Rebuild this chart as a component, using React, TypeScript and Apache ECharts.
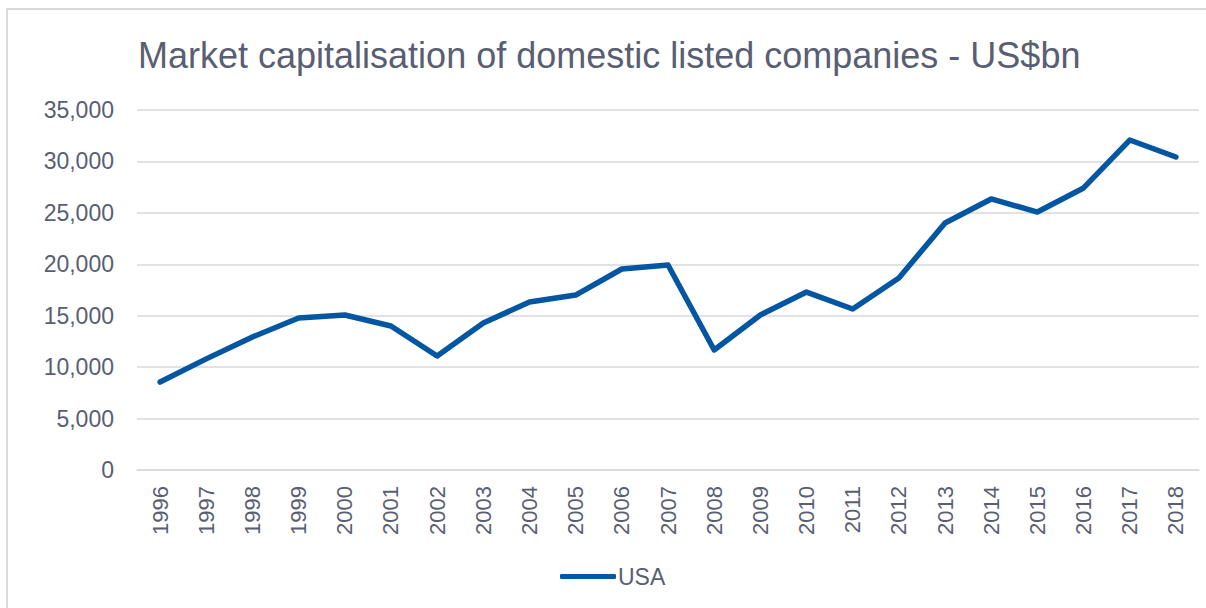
import React, { useEffect, useRef } from "react";
import * as echarts from "echarts";

const years: string[] = [
  "1996", "1997", "1998", "1999", "2000", "2001", "2002", "2003", "2004", "2005", "2006", "2007",
  "2008", "2009", "2010", "2011", "2012", "2013", "2014", "2015", "2016", "2017", "2018",
];
const usaValues: number[] = [
  8550, 10800, 12930, 14780, 15070, 14000, 11080, 14290, 16330, 17010, 19540, 19930,
  11670, 15070, 17300, 15650, 18670, 24010, 26350, 25080, 27420, 32080, 30430,
];
const seriesName = "USA";
const titleText = "Market capitalisation of domestic listed companies - US$bn";

const TEXT = "#595e72";
const GRID = "#d9d9de";
const LINE = "#0356a1";

export default function App() {
  const ref = useRef<HTMLDivElement>(null);
  useEffect(() => {
    document.body.style.margin = "0";
    document.body.style.overflow = "hidden";
    if (!ref.current) return;
    const chart = echarts.init(ref.current, undefined, { renderer: "svg" });
    chart.setOption({
      animation: false,
      backgroundColor: "#ffffff",
      title: {
        text: titleText,
        left: 133,
        top: 32,
        textStyle: {
          fontFamily: "Liberation Sans, Arial, sans-serif",
          fontSize: 36,
          fontWeight: "normal",
          color: TEXT,
        },
      },
      graphic: [
        {
          type: "rect",
          shape: { x: 7, y: 9, width: 1400, height: 800 },
          style: { fill: "none", stroke: GRID, lineWidth: 2 },
          silent: true,
        },
      ],
      grid: { left: 137, right: 7, top: 110, bottom: 138, containLabel: false },
      legend: {
        data: [seriesName],
        left: 555,
        top: 560,
        icon: "roundRect",
        itemWidth: 56,
        itemHeight: 5,
        textStyle: {
          fontFamily: "Liberation Sans, Arial, sans-serif",
          fontSize: 23,
          color: TEXT,
          padding: [0, 0, 0, -3],
        },
      },
      xAxis: {
        type: "category",
        data: years,
        boundaryGap: true,
        axisLine: { show: true, lineStyle: { color: GRID, width: 1.5 } },
        axisTick: { show: false },
        axisLabel: {
          rotate: 90,
          margin: 16,
          fontFamily: "Liberation Sans, Arial, sans-serif",
          fontSize: 22,
          color: TEXT,
          interval: 0,
        },
      },
      yAxis: {
        type: "value",
        min: 0,
        max: 35000,
        interval: 5000,
        axisLine: { show: false },
        axisTick: { show: false },
        splitLine: { lineStyle: { color: GRID, width: 1.5 } },
        axisLabel: {
          margin: 23,
          fontFamily: "Liberation Sans, Arial, sans-serif",
          fontSize: 23,
          color: TEXT,
          formatter: (v: number) => v.toLocaleString("en-US"),
        },
      },
      series: [
        {
          name: seriesName,
          type: "line",
          data: usaValues,
          symbol: "none",
          lineStyle: { color: LINE, width: 5.5, cap: "round", join: "round" },
          itemStyle: { color: LINE },
        },
      ],
    });
    return () => chart.dispose();
  }, []);
  return <div ref={ref} style={{ width: 1206, height: 608 }} />;
}
